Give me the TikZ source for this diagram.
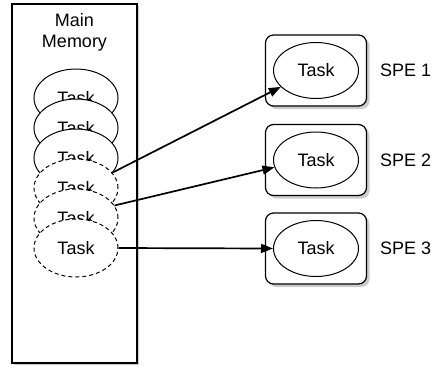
\documentclass[tikz,border=0pt]{standalone}
\usepackage{fontspec}
\setmainfont{Liberation Sans}
\usetikzlibrary{shapes.geometric,shadows,arrows.meta}
\tikzstyle{memory}=[draw,rectangle,line width=1.2pt,fill=white,minimum width=125pt,minimum height=359pt,inner sep=0pt,drop shadow={shadow xshift=2pt,shadow yshift=-2pt,fill=black!40}]
\tikzstyle{task}=[draw,ellipse,fill=white,line width=1pt,minimum width=84pt,minimum height=58pt,inner sep=0pt]
\tikzstyle{queued}=[dash pattern=on 4pt off 3pt]
\tikzstyle{spe}=[draw,rectangle,rounded corners=8pt,line width=1.2pt,fill=white,minimum width=101pt,minimum height=71pt,drop shadow={shadow xshift=3pt,shadow yshift=-3pt,fill=black!40}]
\tikzstyle{speid}=[inner sep=0pt,black]
\tikzstyle{send}=[line width=1.7pt,-{Triangle[length=12pt,width=9pt]}]

\begin{document}
\begin{tikzpicture}[x=1pt,y=-1pt,font=\fontsize{18}{21}\selectfont]
	\useasboundingbox (0,0) rectangle (438,370);
	\node[memory] (mem) at (74.5,183.5) {};
	\node[align=center,anchor=north] (memlabel) at (mem.north) [yshift=-7pt] {Main\\Memory};
	% tasks waiting in main memory
	\foreach \place/\name in {{(76,98)/t1}, {(76,128)/t2}, {(76,158)/t3}}
    \node[task] (\name) at \place {Task};
	\foreach \place/\name in {{(76,188)/t4}, {(76,218)/t5}, {(76,248)/t6}}
    \node[task,queued] (\name) at \place {Task};
	% the three SPEs
	\foreach \y/\n in {70.5/1, 160/2, 248.5/3}
	{
    \node[spe] (spe\n) at (316,\y) {};
    \node[task,minimum width=85pt,minimum height=56pt] (e\n) at (spe\n.center) {Task};
    \node[speid,anchor=west] (spelabel\n) at (380,\y) {SPE \n};
	}
	\draw[send] (t3.-21) -- (e1.205);
	\draw[send] (t5.18) -- (e2.190);
	\draw[send] (t6.east) -- (e3.west);
\end{tikzpicture}
\end{document}
